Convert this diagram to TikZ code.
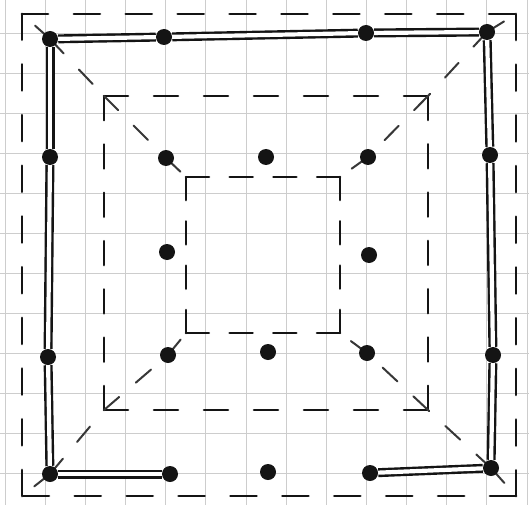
\documentclass[tikz,border=0pt]{standalone}
\pgfdeclarelayer{gridlayer}
\pgfdeclarelayer{linelayer}
\pgfsetlayers{gridlayer,linelayer,main}
\definecolor{ink}{HTML}{141414}
\definecolor{paper}{HTML}{CDCDCD}
\begin{document}
\begin{tikzpicture}[x=1pt,y=-1pt,
  gridline/.style={draw=paper, line width=0.8pt},
  dot/.style={circle, fill=ink, inner sep=0pt, minimum size=16pt},
  dbl/.style={draw=ink, double=white, double distance=4.2pt, line width=2.4pt},
  outerH/.style={draw=ink, line width=2.8pt, line cap=round, dash pattern=on 26pt off 25.9pt},
  outerV/.style={draw=ink, line width=2.8pt, line cap=round, dash pattern=on 26pt off 24.7pt},
  midH/.style={draw=ink, line width=2.6pt, line cap=round, dash pattern=on 24pt off 26pt},
  midV/.style={draw=ink, line width=2.6pt, line cap=round, dash pattern=on 24pt off 24.3pt},
  innH/.style={draw=ink, line width=2.6pt, line cap=round, dash pattern=on 23pt off 20.7pt},
  innV/.style={draw=ink, line width=2.6pt, line cap=round, dash pattern=on 23pt off 21.3pt},
  diag/.style={draw=ink!85, line width=2pt, line cap=round, dash pattern=on 20pt off 22pt}
]
\useasboundingbox (0,0) rectangle (529,505);

% grid paper
\begin{pgfonlayer}{gridlayer}
  \fill[white] (0,0) rectangle (529,505);
  \foreach \i in {0,...,13} \draw[gridline] ({5+40.15*\i},0) -- ({5+40.15*\i},505);
  \foreach \j in {0,...,11} \draw[gridline] (0,{33+40*\j}) -- (529,{33+40*\j});
\end{pgfonlayer}

% dots
\node[dot] (a1) at (50,39) {};
\node[dot] (a2) at (164,37) {};
\node[dot] (a4) at (366,33) {};
\node[dot] (a5) at (487,32) {};
\node[dot] (b1) at (50,157) {};
\node[dot] (b2) at (166,158) {};
\node[dot] (b3) at (266,157) {};
\node[dot] (b4) at (368,157) {};
\node[dot] (b5) at (490,155) {};
\node[dot] (c2) at (167,252) {};
\node[dot] (c4) at (369,255) {};
\node[dot] (d1) at (48,357) {};
\node[dot] (d2) at (168,355) {};
\node[dot] (d3) at (268,352) {};
\node[dot] (d4) at (367,353) {};
\node[dot] (d5) at (493,355) {};
\node[dot] (e1) at (50,474) {};
\node[dot] (e2) at (170,474) {};
\node[dot] (e3) at (268,472) {};
\node[dot] (e4) at (370,473) {};
\node[dot] (e5) at (491,468) {};

% square corners
\coordinate (O1) at (22,14);  \coordinate (O2) at (516,14);
\coordinate (O3) at (516,496); \coordinate (O4) at (22,496);
\coordinate (M1) at (104,96);  \coordinate (M2) at (428,96);
\coordinate (M3) at (428,410); \coordinate (M4) at (104,410);
\coordinate (I1) at (186,177); \coordinate (I2) at (340,177);
\coordinate (I3) at (340,333); \coordinate (I4) at (186,333);

\begin{pgfonlayer}{linelayer}
  % outer dashed square
  \draw[outerH] (O1) -- (O2);
  \draw[outerV] (O2) -- (O3);
  \draw[outerH] (O3) -- (O4);
  \draw[outerV] (O4) -- (O1);
  % middle dashed square
  \draw[midH] (M1) -- (M2);
  \draw[midV] (M2) -- (M3);
  \draw[midH] (M3) -- (M4);
  \draw[midV] (M4) -- (M1);
  % inner dashed square
  \draw[innH] (I1) -- (I2);
  \draw[innV] (I2) -- (I3);
  \draw[innH] (I3) -- (I4);
  \draw[innV] (I4) -- (I1);
  % diagonals, one dashed piece between each pair of points
  \draw[diag] (a1.center) -- (O1);  \draw[diag] (a1.center) -- (M1);
  \draw[diag] (M1) -- (b2.center);  \draw[diag] (b2.center) -- (I1);
  \draw[diag] (a5.center) -- (O2);  \draw[diag] (a5.center) -- (M2);
  \draw[diag] (M2) -- (b4.center);  \draw[diag] (b4.center) -- (I2);
  \draw[diag] (e5.center) -- (O3);  \draw[diag] (e5.center) -- (M3);
  \draw[diag] (M3) -- (d4.center);  \draw[diag] (d4.center) -- (I3);
  \draw[diag] (e1.center) -- (O4);  \draw[diag] (e1.center) -- (M4);
  \draw[diag] (M4) -- (d2.center);  \draw[diag] (d2.center) -- (I4);
  % double solid edges
  \draw[dbl] (a1) -- (a2);
  \draw[dbl] (a2) -- (a4);
  \draw[dbl] (a4) -- (a5);
  \draw[dbl] (a1) -- (b1);
  \draw[dbl] (b1) -- (d1);
  \draw[dbl] (d1) -- (e1);
  \draw[dbl] (a5) -- (b5);
  \draw[dbl] (b5) -- (d5);
  \draw[dbl] (d5) -- (e5);
  \draw[dbl] (e1) -- (e2);
  \draw[dbl] (e4) -- (e5);
\end{pgfonlayer}
\end{tikzpicture}
\end{document}
